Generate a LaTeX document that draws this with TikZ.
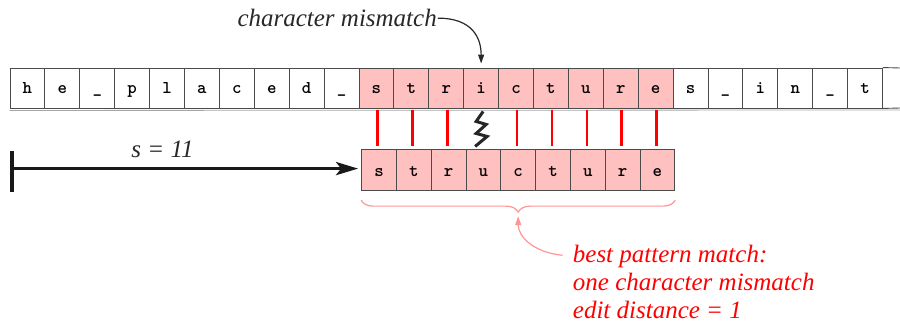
\documentclass[tikz,border=0pt]{standalone}
\usepackage{fontspec}
\setmainfont{Liberation Serif}
\usetikzlibrary{arrows.meta,decorations.pathreplacing}

\begin{document}
\begin{tikzpicture}[x=1pt,y=-1pt,
  cellbox/.style={shape=rectangle,draw=cellgray,line width=0.9pt,minimum width=34.9pt,minimum height=40pt,inner sep=0pt,text height=12pt,text depth=0pt,font=\ttfamily\bfseries\fontsize{18}{18}\selectfont},
  patbox/.style={cellbox,fill=matchpink,minimum width=34.8pt,minimum height=41pt},
  matchline/.style={draw=red,line width=2.6pt},
  labeltext/.style={inner sep=0pt,font=\itshape\fontsize{25}{28}\selectfont}]
\definecolor{cellgray}{RGB}{75,75,75}
\definecolor{matchpink}{RGB}{255,192,192}
\definecolor{bracepink}{RGB}{255,150,150}
\definecolor{darktext}{RGB}{40,40,40}
\useasboundingbox (0,0) rectangle (900,323);
% text row
\foreach \ch [count=\i] in {h,e,\_,p,l,a,c,e,d,\_}
  \node[cellbox] (t\i) at ({10+34.9*(\i-0.5)},88) {\ch};
\foreach \ch [count=\i from 11] in {s,t,r,i,c,t,u,r,e}
  \node[cellbox,fill=matchpink] (t\i) at ({10+34.9*(\i-0.5)},88) {\ch};
\foreach \ch [count=\i from 20] in {s,\_,i,n,\_,t}
  \node[cellbox] (t\i) at ({10+34.9*(\i-0.5)},88) {\ch};
\draw[draw=cellgray,line width=0.9pt] (t25.north east) -- (900,68);
\draw[draw=cellgray,line width=0.9pt] (t25.south east) -- (900,108);
\draw[draw=gray!70,line width=0.8pt] ([yshift=-2pt]t1.south west) -- (900,110);
% pattern row
\foreach \ch [count=\i] in {s,t,r,u,c,t,u,r,e}
  \node[patbox] (p\i) at ({361.6+34.8*(\i-0.5)},170.2) {\ch};
\foreach \i in {11,12,13,15,16,17,18,19}
  \draw[matchline,shorten <=2pt,shorten >=3pt] ([xshift=1pt]t\i.south) -- ([xshift=1pt]t\i.south |- p1.north);
\draw[line width=3pt,draw=black!85] ([xshift=2pt,yshift=-3pt]t14.south) -- ++(-7,10) -- ++(10,3) -- ++(-10,9) -- ++(11,3) -- ++(-12,10);
% shift s
\coordinate (s0) at (12,168.6);
\draw[line width=3.2pt,draw=black!90] ([yshift=18pt]s0) -- ([yshift=-23pt]s0);
\draw[line width=3.5pt,draw=black!90,shorten >=3pt,-{Stealth[length=22pt,width=13pt,inset=5pt]}] (s0) -- (s0 -| p1.west);
\node[labeltext,anchor=base,text=darktext] (shiftlabel) at (162.6,157.3) {s = 11};
% mismatch label
\node[labeltext,anchor=base west,text=darktext] (mislabel) at (237.3,26.7) {character mismatch};
\draw[draw=darktext,line width=1.2pt,-{Triangle[length=9pt,width=6pt]}] ([xshift=1pt]mislabel.east) .. controls +(35,0) and +(0,-25) .. ([yshift=4pt]t14.north);
% best match
\draw[draw=bracepink,line width=1.2pt,decorate,decoration={brace,mirror,amplitude=12pt}] ([yshift=-9pt]p1.south west) -- ([yshift=-9pt]p9.south east);
\node[labeltext,anchor=north west,align=left,text=red] (note) at (572.7,245.3) {best pattern match:\\one character mismatch\\edit distance = 1};
\draw[draw=bracepink,line width=1.2pt,-{Triangle[length=9pt,width=6pt]}] ([xshift=-10pt,yshift=-10pt]note.north west) .. controls +(-30,-3) and +(0,20) .. ([yshift=-25pt]p5.south);
\end{tikzpicture}
\end{document}
